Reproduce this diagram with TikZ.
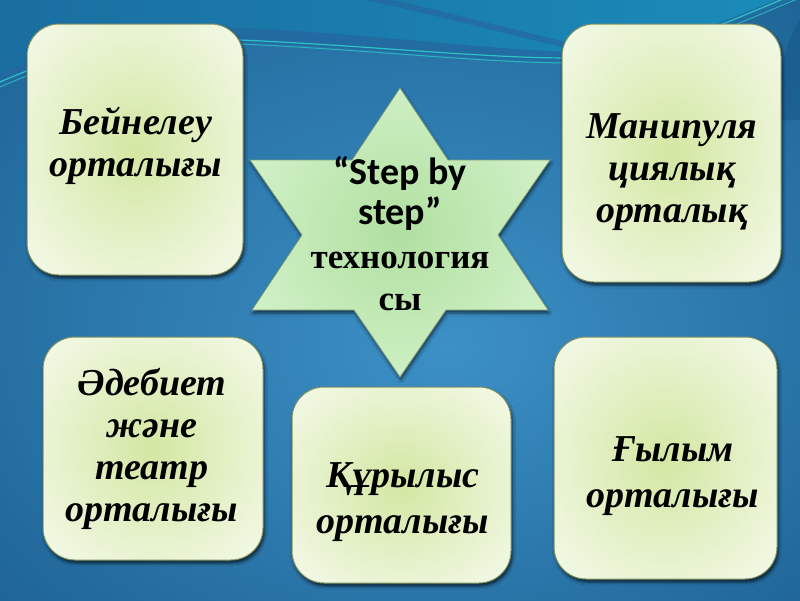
\documentclass[tikz,border=0pt]{standalone}
\usepackage{fontspec}
\setmainfont{Liberation Serif}
\newfontfamily\starlat{Carlito}
\usetikzlibrary{shadows.blur}
\definecolor{boxin}{HTML}{D3E7A2}
\definecolor{boxout}{HTML}{F1F8E3}
\definecolor{starin}{HTML}{B0DFA0}
\definecolor{starout}{HTML}{D4F3CB}
\definecolor{bgin}{HTML}{3C90C6}
\definecolor{bgout}{HTML}{17598A}
\definecolor{boxline}{HTML}{7E9160}
\definecolor{starline}{HTML}{7F9B78}
\definecolor{tealA}{HTML}{1A6EA0}
\definecolor{tealB}{HTML}{1A8CBA}
\definecolor{darkband}{HTML}{2468A0}
\definecolor{cyanline}{HTML}{2FC2C6}
\pgfdeclareradialshading{boxshade}{\pgfpoint{0bp}{0bp}}{color(0bp)=(boxin); color(32bp)=(boxout); color(50bp)=(boxout)}
\pgfdeclareradialshading{starshade}{\pgfpoint{0bp}{0bp}}{color(0bp)=(starin); color(30bp)=(starout); color(50bp)=(starout)}
\pgfdeclareradialshading{bgshade}{\pgfpoint{3bp}{-4bp}}{color(0bp)=(bgin); color(45bp)=(bgout); color(50bp)=(bgout)}
\tikzset{
  panel/.style={draw=boxline, line width=1pt, rounded corners=32pt, shading=boxshade,
    blur shadow={shadow xshift=1.5pt, shadow yshift=-3pt, shadow blur radius=3pt, shadow opacity=70}},
  paneltext/.style={align=center, font=\bfseries\itshape\fontsize{38}{42}\selectfont, inner sep=0pt},
  paneltextwide/.style={paneltext, font=\bfseries\itshape\fontsize{38}{46}\selectfont},
  startext/.style={anchor=base, inner sep=0pt},
}
\begin{document}
\begin{tikzpicture}[x=1pt, y=-1pt]
\useasboundingbox (0,0) rectangle (800,600);
% background
\shade[shading=bgshade] (0,0) rectangle (800,600);
% top wave area
\shade[left color=tealA, right color=tealB]
  (0,0) -- (800,0) -- (800,-5) .. controls (740,20) and (680,50) .. (600,60)
  .. controls (520,66) and (380,48) .. (240,42)
  .. controls (120,38) and (60,60) .. (0,86) -- cycle;
\fill[darkband, opacity=0.8]
  (0,74) .. controls (60,48) and (120,26) .. (240,28)
  .. controls (380,34) and (520,54) .. (600,52)
  .. controls (680,44) and (740,14) .. (800,-10)
  -- (800,-5) .. controls (740,20) and (680,50) .. (600,60)
  .. controls (520,66) and (380,48) .. (240,42)
  .. controls (120,38) and (60,60) .. (0,86) -- cycle;
\draw[cyanline, line width=1.2pt]
  (0,82) .. controls (60,56) and (120,36) .. (240,40)
  .. controls (380,46) and (520,62) .. (600,57)
  .. controls (680,47) and (740,16) .. (800,-8);
\draw[cyanline, line width=1pt, opacity=0.8]
  (0,87) .. controls (60,61) and (120,41) .. (240,44)
  .. controls (380,50) and (520,67) .. (600,62)
  .. controls (680,52) and (740,22) .. (800,-2);
\draw[darkband, line width=6pt, opacity=0.7]
  (360,-4) .. controls (430,10) and (500,30) .. (580,48);
\fill[bgout, opacity=0.6] (800,20) .. controls (785,40) and (780,80) .. (770,120) -- (800,120) -- cycle;
% panels
\node[panel, minimum width=216pt, minimum height=251pt] (b1) at (135,149.5) {};
\node[panel, minimum width=219pt, minimum height=258pt] (b2) at (671.5,153) {};
\node[panel, minimum width=220pt, minimum height=223pt] (b3) at (153,448.5) {};
\node[panel, minimum width=219pt, minimum height=196pt] (b4) at (401.5,485) {};
\node[panel, minimum width=223pt, minimum height=242pt] (b5) at (665.5,458) {};
% star
\shade[shading=starshade, draw=starline, line width=0.8pt,
  blur shadow={shadow xshift=1pt, shadow yshift=-3pt, shadow blur radius=3pt, shadow opacity=60}]
  (400,88) -- (448,160) -- (550,160) -- (498,235) -- (548,310) -- (446,310) -- (400,377)
  -- (354,310) -- (252,310) -- (302,235) -- (250,160) -- (352,160) -- cycle;
\coordinate (star) at (400,235);
% texts
\node[paneltext] (t1) at (136,146) {Бейнелеу\\орталығы};
\node[paneltext] (t2) at (672,172) {Манипуля\\циялық\\орталық};
\node[paneltext] (t3) at (152,449) {Әдебиет\\және\\театр\\орталығы};
\node[paneltextwide] (t4) at (403,502) {Құрылыс\\орталығы};
\node[paneltextwide] (t5) at (673,476) {Ғылым\\орталығы};
\node[startext, font=\starlat\bfseries\fontsize{38}{40}\selectfont] (s1) at (400,184) {“Step by};
\node[startext, font=\starlat\bfseries\fontsize{38}{40}\selectfont] (s2) at (400,224) {step”};
\node[startext, font=\bfseries\fontsize{35}{40}\selectfont] (s3) at (400,268) {технология};
\node[startext, font=\bfseries\fontsize{35}{40}\selectfont] (s4) at (400,310) {сы};
\end{tikzpicture}
\end{document}
